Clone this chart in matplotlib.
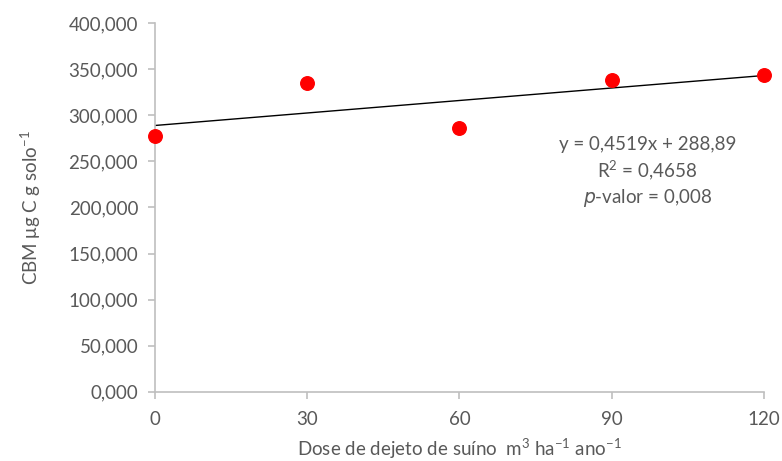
import matplotlib.pyplot as plt
import numpy as np

# swine manure dose (m3/ha/year) and soil microbial biomass carbon
dose = [0, 30, 60, 90, 120]
cbm = [277.5, 335.0, 286.0, 338.0, 343.6]

# fitted linear trend
slope = 0.4519
intercept = 288.89

y_ticks = [0, 50, 100, 150, 200, 250, 300, 350, 400]
x_ticks = [0, 30, 60, 90, 120]

plt.rcParams['font.family'] = ['Lato', 'DejaVu Sans']
plt.rcParams['mathtext.default'] = 'regular'

fig = plt.figure(figsize=(7.82, 4.61), dpi=100)
ax = fig.add_axes([0.198, 0.150, 0.779, 0.800])

xl = np.array([0, 120])
ax.plot(xl, slope * xl + intercept, color='black', lw=1.0, zorder=2)
ax.scatter(dose, cbm, s=95, color='#ff0000', zorder=3, clip_on=False)

ax.set_xlim(0, 120)
ax.set_ylim(0, 400)
ax.set_xticks(x_ticks)
ax.set_yticks(y_ticks)
ax.set_yticklabels([f'{v},000' for v in y_ticks])

for side in ['top', 'right']:
    ax.spines[side].set_visible(False)
for side in ['left', 'bottom']:
    ax.spines[side].set_color('#bfbfbf')
    ax.spines[side].set_linewidth(1.2)
ax.tick_params(axis='both', colors='#bfbfbf', length=5, width=1.2,
               labelcolor='#595959', labelsize=13.5)
ax.tick_params(axis='x', pad=9)
ax.tick_params(axis='y', pad=7)

ax.set_xlabel('Dose de dejeto de suíno  m$^{3}$ ha$^{-1}$ ano$^{-1}$',
              color='#595959', fontsize=13.5, labelpad=6)
ax.set_ylabel('CBM μg C g solo$^{-1}$', color='#595959', fontsize=13.5, labelpad=18)

ax.text(97, 238, 'y = 0,4519x + 288,89\nR$^{2}$ = 0,4658\n$\\it{p}$-valor = 0,008',
        ha='center', va='center', color='#595959', fontsize=13.5, linespacing=1.3)

fig.savefig('out.png', dpi=100)
